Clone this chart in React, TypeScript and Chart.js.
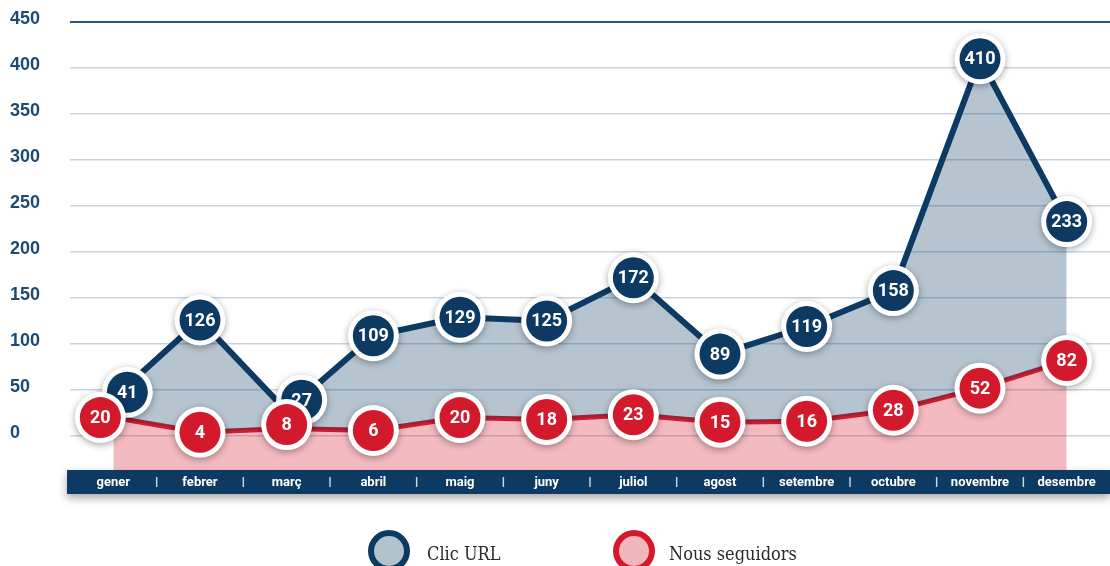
import React, { useEffect, useRef } from "react";
import { Chart, registerables } from "chart.js";

Chart.register(...registerables);

const months = ["gener", "febrer", "març", "abril", "maig", "juny", "juliol", "agost", "setembre", "octubre", "novembre", "desembre"];
const clicUrl = [41, 126, 27, 109, 129, 125, 172, 89, 119, 158, 410, 233];
const nousSeguidors = [20, 4, 8, 6, 20, 18, 23, 15, 16, 28, 52, 82];
const seriesNames = ["Clic URL", "Nous seguidors"];

const NAVY = "#0c3a62";
const RED = "#d3192c";
const NAVY_FILL = "rgba(12,58,98,0.3)";
const RED_FILL = "rgba(215,25,45,0.3)";
const TICK_COLOR = "#1d4a72";

const barPlugin = {
  id: "monthBar",
  beforeDraw(chart: any) {
    const { ctx, chartArea, width } = chart;
    ctx.save();
    ctx.shadowColor = "rgba(0,0,0,0.35)";
    ctx.shadowBlur = 8;
    ctx.shadowOffsetY = 4;
    ctx.fillStyle = NAVY;
    ctx.fillRect(chartArea.left - 3, chartArea.bottom, width - chartArea.left + 3, 24);
    ctx.restore();
    const xs = chart.scales.x;
    ctx.save();
    ctx.strokeStyle = "#c9d3dc";
    ctx.lineWidth = 1.5;
    for (let i = 0; i < months.length - 1; i++) {
      const x = (xs.getPixelForValue(i) + xs.getPixelForValue(i + 1)) / 2;
      ctx.beginPath();
      ctx.moveTo(x, chartArea.bottom + 7);
      ctx.lineTo(x, chartArea.bottom + 17);
      ctx.stroke();
    }
    ctx.restore();
  },
};

const markerPlugin = {
  id: "markers",
  afterDatasetsDraw(chart: any, _args: any, opts: any) {
    const ctx = chart.ctx;
    const colors = [NAVY, RED];
    [0, 1].forEach((di) => {
      const meta = chart.getDatasetMeta(di);
      const values = chart.data.datasets[di].data;
      meta.data.forEach((pt: any, i: number) => {
        const n = (opts.nudges[di] && opts.nudges[di][i]) || [0, 0];
        const x = pt.x + n[0];
        const y = pt.y + n[1];
        ctx.save();
        ctx.shadowColor = "rgba(0,0,0,0.35)";
        ctx.shadowBlur = 7;
        ctx.shadowOffsetY = 2;
        ctx.beginPath();
        ctx.arc(x, y, 25.5, 0, Math.PI * 2);
        ctx.fillStyle = "#ffffff";
        ctx.fill();
        ctx.restore();
        ctx.beginPath();
        ctx.arc(x, y, 20.5, 0, Math.PI * 2);
        ctx.fillStyle = colors[di];
        ctx.fill();
        ctx.fillStyle = "#ffffff";
        ctx.font = "700 18px Roboto";
        ctx.textAlign = "center";
        ctx.textBaseline = "middle";
        ctx.fillText(String(values[i]), x, y + 1);
      });
    });
  },
};

export default function App() {
  const ref = useRef<HTMLCanvasElement>(null);

  useEffect(() => {
    document.body.style.margin = "0";
    const chart = new Chart(ref.current as HTMLCanvasElement, {
      type: "line",
      data: {
        labels: months,
        datasets: [
          {
            label: seriesNames[0],
            data: clicUrl,
            borderColor: NAVY,
            borderWidth: 6,
            backgroundColor: NAVY_FILL,
            fill: 1,
            pointRadius: 0,
            tension: 0,
          },
          {
            label: seriesNames[1],
            data: nousSeguidors,
            borderColor: RED,
            borderWidth: 5,
            backgroundColor: RED_FILL,
            fill: "start",
            pointRadius: 0,
            tension: 0,
          },
        ],
      },
      options: {
        animation: false,
        responsive: false,
        events: [],
        layout: { padding: { left: 10, top: 22, right: 0, bottom: 72 } },
        plugins: {
          legend: { display: false },
          tooltip: { enabled: false },
          markers: {
            nudges: {
              0: { 0: [14, -6], 2: [15, -11] },
              1: { 0: [-13, 0], 2: [0, -4] },
            },
          },
        } as any,
        scales: {
          x: {
            offset: true,
            grid: { display: false, drawTicks: false },
            border: { display: false },
            ticks: {
              color: "#ffffff",
              font: { family: "Roboto", weight: "bold", size: 13 },
              padding: 5,
              maxRotation: 0,
              autoSkip: false,
            },
            afterFit: (s: any) => {
              s.height = 24;
            },
          },
          y: {
            min: -37,
            max: 450,
            ticks: {
              stepSize: 50,
              color: TICK_COLOR,
              font: { family: "Liberation Sans", weight: "bold", size: 18 },
              crossAlign: "far",
              labelOffset: -3,
            },
            afterBuildTicks: (s: any) => {
              s.ticks = s.ticks.filter((t: any) => t.value >= 0);
            },
            afterFit: (s: any) => {
              s.width = 60;
            },
            grid: {
              drawTicks: false,
              color: (c: any) => (c.tick && c.tick.value === 450 ? "#2a5882" : "#c8d5df"),
              lineWidth: (c: any) => (c.tick && c.tick.value === 450 ? 2 : 1.5),
            },
            border: { display: false },
          },
        },
      },
      plugins: [barPlugin, markerPlugin],
    });
    return () => chart.destroy();
  }, []);

  const legendItem = (left: number, ring: string, fill: string, textLeft: number, text: string) => (
    <>
      <div
        style={{
          position: "absolute",
          left,
          top: 530,
          width: 42,
          height: 42,
          boxSizing: "border-box",
          border: `6px solid ${ring}`,
          borderRadius: "50%",
          background: fill,
        }}
      />
      <span
        style={{
          position: "absolute",
          left: textLeft,
          top: 545,
          fontFamily: "'DejaVu Serif Condensed', 'DejaVu Serif', serif",
          fontStretch: "condensed",
          fontSize: 18,
          lineHeight: "18px",
          color: "#2b2b2b",
          whiteSpace: "nowrap",
        }}
      >
        {text}
      </span>
    </>
  );

  return (
    <div style={{ position: "absolute", left: 0, top: 0, width: 1110, height: 566, overflow: "hidden", background: "#fff" }}>
      <canvas ref={ref} width={1110} height={566} style={{ position: "absolute", left: 0, top: 0 }} />
      {legendItem(368, NAVY, "#b3c3ce", 427, seriesNames[0])}
      {legendItem(613, RED, "#f0b7bb", 669, seriesNames[1])}
    </div>
  );
}
